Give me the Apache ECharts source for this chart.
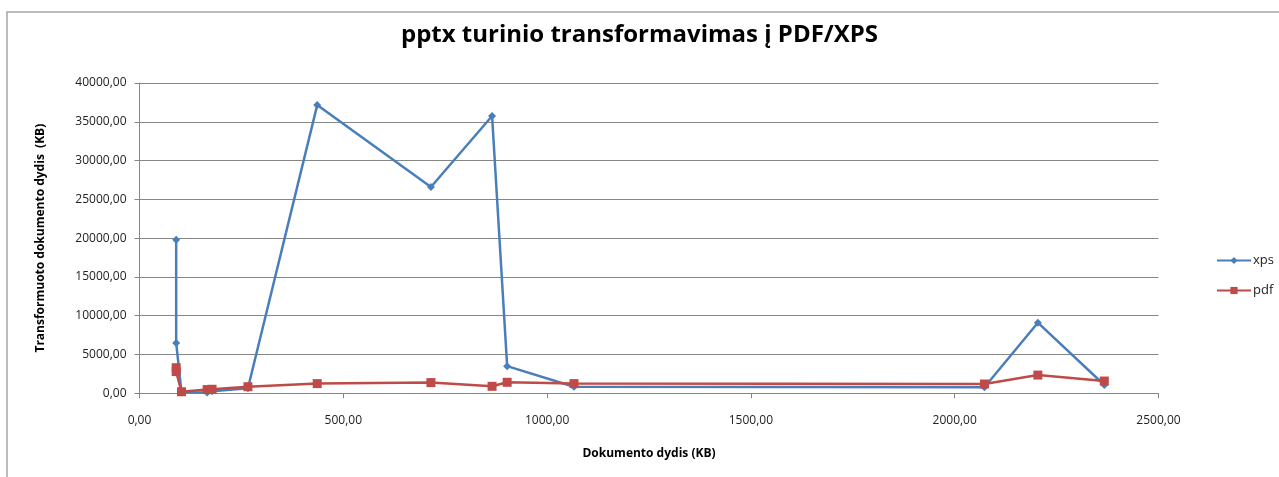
<!DOCTYPE html>
<html>
<head>
<meta charset="utf-8">
<script src="https://cdn.jsdelivr.net/npm/echarts@6/dist/echarts.min.js"></script>
<style>
  html, body { margin: 0; padding: 0; background: #ffffff; }
  #chart { width: 1279px; height: 477px; }
</style>
</head>
<body>
<div id="chart"></div>
<script>
// Document sizes (KB) and transformed output sizes (KB)
const docSizes = [90, 90, 103, 166, 178, 266, 436, 715, 865, 902, 1066, 2073, 2204, 2367];
const xpsSizes = [19800, 6500, 150, 100, 250, 650, 37150, 26600, 35750, 3500, 850, 780, 9100, 1070];
const pdfSizes = [3300, 2800, 200, 480, 520, 850, 1250, 1380, 900, 1420, 1250, 1200, 2350, 1580];

const seriesNames = ['xps', 'pdf'];
const titleText = 'pptx turinio transformavimas į PDF/XPS';
const xAxisName = 'Dokumento dydis (KB)';
const yAxisName = 'Transformuoto dokumento dydis  (KB)';

const FONT = '"Open Sans", "DejaVu Sans", sans-serif';
const fmt = v => v.toFixed(2).replace('.', ',');
const pairs = ys => docSizes.map((x, i) => [x, ys[i]]);

const chart = echarts.init(document.getElementById('chart'), null, { renderer: 'canvas' });

chart.setOption({
  backgroundColor: '#ffffff',
  animation: false,
  title: {
    text: titleText,
    left: 'center',
    top: 18,
    textStyle: { fontFamily: FONT, fontSize: 24, fontWeight: 'bold', color: '#000000' }
  },
  graphic: [{
    type: 'rect',
    shape: { x: 7, y: 12, width: 1300, height: 500 },
    style: { fill: 'none', stroke: '#a6a6a6', lineWidth: 1.5 },
    silent: true
  }],
  legend: {
    orient: 'vertical',
    left: 1211,
    top: 249,
    itemWidth: 34,
    itemHeight: 9,
    itemGap: 17,
    data: seriesNames,
    textStyle: { fontFamily: FONT, fontSize: 13, color: '#222222', padding: [0, 0, 0, -3] }
  },
  grid: { left: 139.5, right: 120.5, top: 83, bottom: 83.7, containLabel: false },
  xAxis: {
    type: 'value',
    min: 0, max: 2500, interval: 500,
    name: xAxisName,
    nameLocation: 'middle',
    nameGap: 54,
    nameTextStyle: { fontFamily: FONT, fontSize: 12, fontWeight: 'bold', color: '#000' },
    axisLine: { show: true, lineStyle: { color: '#868686', width: 1 } },
    axisTick: { show: true, inside: false, length: 5, lineStyle: { color: '#868686' } },
    axisLabel: { formatter: fmt, margin: 21, fontFamily: FONT, fontSize: 12, color: '#222222' },
    splitLine: { show: false }
  },
  yAxis: {
    type: 'value',
    min: 0, max: 40000, interval: 5000,
    name: yAxisName,
    nameLocation: 'middle',
    nameRotate: 90,
    nameGap: 93,
    nameTextStyle: { fontFamily: FONT, fontSize: 12, fontWeight: 'bold', color: '#000' },
    axisLine: { show: true, lineStyle: { color: '#868686', width: 1 } },
    axisTick: { show: true, inside: false, length: 5, lineStyle: { color: '#868686' } },
    axisLabel: { formatter: fmt, margin: 13, fontFamily: FONT, fontSize: 12, color: '#222222' },
    splitLine: { show: true, lineStyle: { color: '#868686', width: 1 } }
  },
  series: [
    {
      name: seriesNames[0],
      type: 'line',
      data: pairs(xpsSizes),
      symbol: 'diamond',
      symbolSize: 8,
      showAllSymbol: true,
      lineStyle: { color: '#4a7ebb', width: 2.5 },
      itemStyle: { color: '#4a7ebb' },
      z: 2
    },
    {
      name: seriesNames[1],
      type: 'line',
      data: pairs(pdfSizes),
      symbol: 'rect',
      symbolSize: 9,
      showAllSymbol: true,
      lineStyle: { color: '#be4b48', width: 2.5 },
      itemStyle: { color: '#be4b48' },
      z: 3
    }
  ]
});
</script>
</body>
</html>
